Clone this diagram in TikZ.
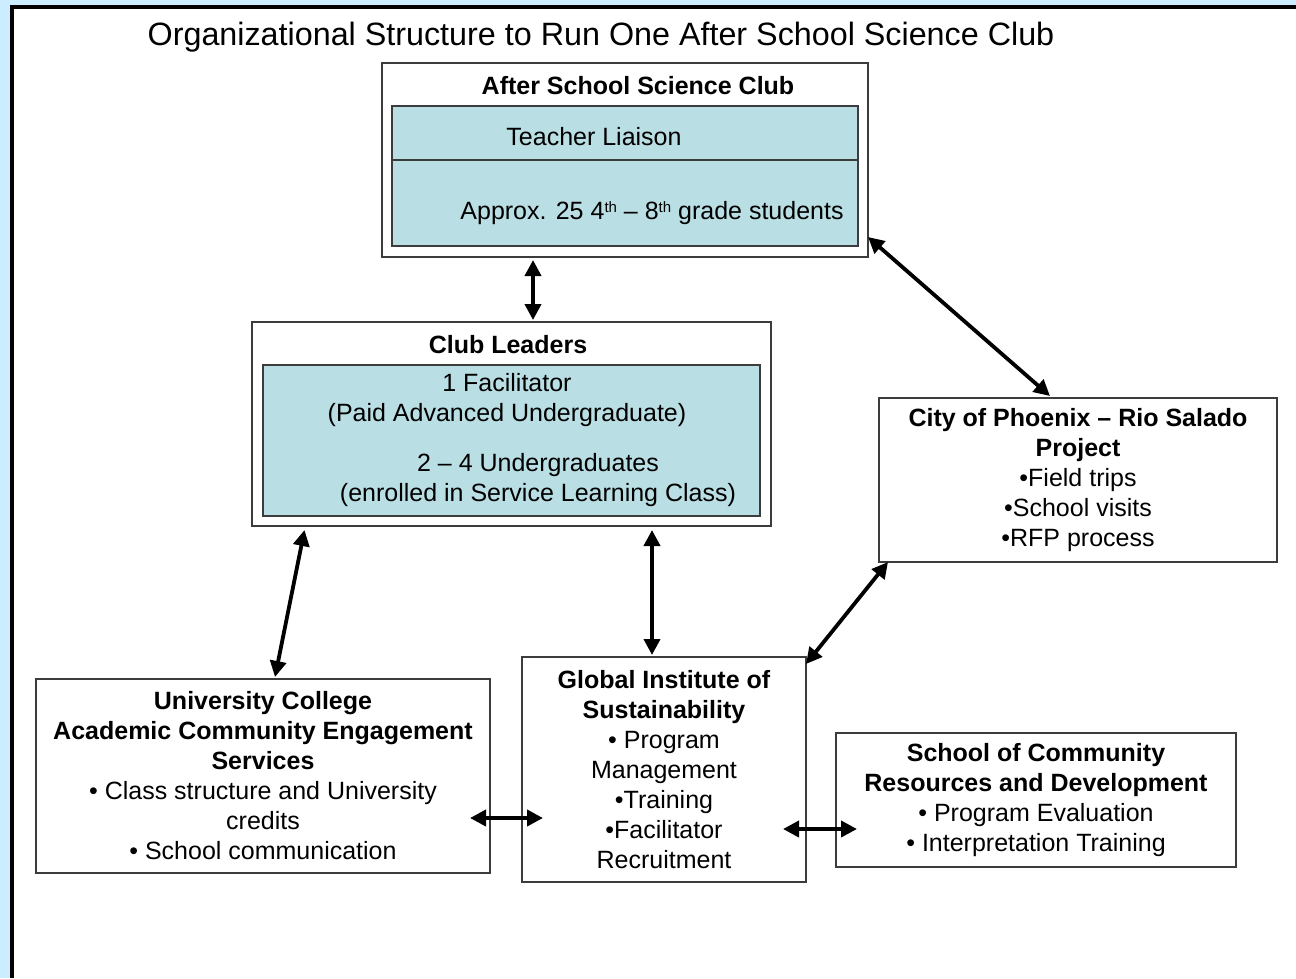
\documentclass[tikz,border=0pt]{standalone}
\usepackage{fontspec}
\setmainfont{Liberation Sans}
\usetikzlibrary{arrows.meta,positioning,calc}
\definecolor{framebg}{RGB}{204,236,255}
\definecolor{cellteal}{RGB}{185,222,227}
\definecolor{boxline}{RGB}{60,60,60}

\begin{document}
\begin{tikzpicture}[x=1pt,y=-1pt,
		box/.style={rectangle,draw=boxline,line width=1.5pt,fill=white,inner sep=0pt,outer sep=0pt},
		cell/.style={rectangle,draw=boxline,line width=1.5pt,fill=cellteal,inner sep=0pt,outer sep=0pt},
		txt/.style={font=\fontsize{25}{30}\selectfont,align=center,inner sep=0pt},
		conn/.style={{Triangle[length=16pt,width=16pt]}-{Triangle[length=16pt,width=16pt]},line width=3.8pt}]
				% Frame
				\useasboundingbox (0,0) rectangle (1296,978);
				\fill[framebg] (0,0) rectangle (1296,978);
				\fill[white] (12,7) rectangle (1296,978);
				\draw[line width=4pt] (12,978) -- (12,7) -- (1296,7);
				
				\node[inner sep=0pt,font=\fontsize{32.3}{38}\selectfont] (title) at (601,37) {Organizational Structure to Run One After School Science Club};
				
				% After school club box
				\node[box,minimum width=486,minimum height=194] (club) at (625,160) {};
				\node[txt] (clubname) at (638,86) {\textbf{After School Science Club}};
				\node[cell,minimum width=466,minimum height=54] (liaison) at (625,133) {};
				\node[cell,minimum width=466,minimum height=86] (students) at (625,203) {};
				\node[txt] (liaisontxt) at (594,137) {Teacher Liaison};
				\node[txt] (studentstxt) at (652,213) {Approx. 25 4{\fontsize{15}{15}\selectfont\raisebox{7pt}{th}} -- 8{\fontsize{15}{15}\selectfont\raisebox{7pt}{th}} grade students};
				
				% Club leaders box
				\node[box,minimum width=519,minimum height=204] (leaders) at (511.5,424) {};
				\node[txt] (leadersname) at (508,345) {\textbf{Club Leaders}};
				\node[cell,minimum width=497,minimum height=151] (staff) at (511.5,440.5) {};
				\node[txt] (facil) at (507,400) {1 Facilitator\\(Paid Advanced Undergraduate)};
				\node[txt] (undergrads) at (538,480) {2 -- 4 Undergraduates\\(enrolled in Service Learning Class)};
				
				% Partner boxes
				\node[box,txt,minimum width=398,minimum height=164] (city) at (1078,480) {\textbf{City of Phoenix -- Rio Salado}\\\textbf{Project}\\•Field trips\\•School visits\\•RFP process};
				\node[box,txt,minimum width=454,minimum height=194] (univ) at (263,776) {\textbf{University College}\\\textbf{Academic Community Engagement}\\\textbf{Services}\\• Class structure and University\\credits\\• School communication};
				\node[box,txt,minimum width=284,minimum height=225] (global) at (664,769.5) {\textbf{Global Institute of}\\\textbf{Sustainability}\\• Program\\Management\\•Training\\•Facilitator\\Recruitment};
				\node[box,txt,minimum width=400,minimum height=134] (school) at (1036,800) {\textbf{School of Community}\\\textbf{Resources and Development}\\• Program Evaluation\\• Interpretation Training};
				
				% Arrows
				\draw[conn] ([xshift=-92pt,yshift=-3pt]club.south) -- ([xshift=-92pt,yshift=2pt]club.south |- leaders.north);
				\draw[conn] ([yshift=20pt]club.south east) -- ([xshift=-28pt,yshift=2pt]city.north);
				\draw[conn] ([xshift=-207pt,yshift=-4pt]leaders.south) -- ([xshift=12pt,yshift=2pt]univ.north);
				\draw[conn] ([xshift=-12pt,yshift=-4pt]global.north |- leaders.south) -- ([xshift=-12pt,yshift=2pt]global.north);
				\draw[conn] ([xshift=9pt]city.south west) -- ([yshift=-7pt]global.north east);
				\draw[conn] ($(univ.east)+(-20,42)$) -- ($(global.west)+(21,48.5)$);
				\draw[conn] ($(global.east)+(-23,59.5)$) -- ($(school.west)+(21,29)$);
				
			\end{tikzpicture}
\end{document}
